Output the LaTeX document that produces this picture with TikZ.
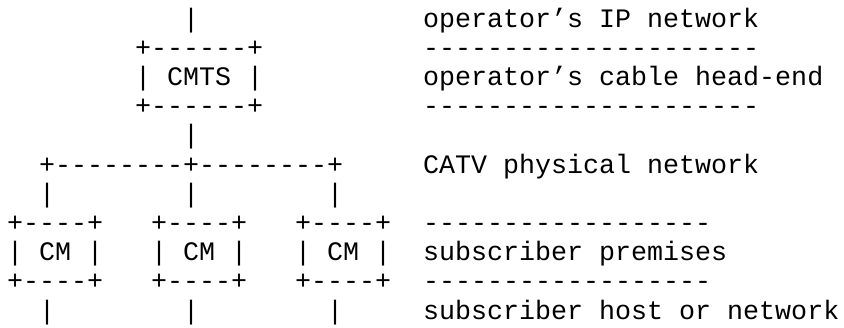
\documentclass[tikz,border=0pt]{standalone}
\usepackage{fontspec}
\setmonofont{Liberation Mono}

\begin{document}
\begin{tikzpicture}[x=16pt, y=-29.2pt,
  ascii/.style={font=\ttfamily\fontsize{26.67pt}{29.2pt}\selectfont, anchor=base west, inner sep=0pt}]

% one unit = one character column (x) or one text line (y)
\useasboundingbox (-0.4375,-0.925) rectangle (52.3125,10.274);

% CMTS and its uplink
\node[ascii] (uplink)  at (11,0) {|};
\node[ascii] (cmtstop) at (8,1)  {+------+};
\node[ascii] (cmts)    at (8,2)  {| CMTS |};
\node[ascii] (cmtsbot) at (8,3)  {+------+};
\node[ascii] (drop)    at (11,4) {|};

% CATV tree
\node[ascii] (trunk) at (2,5) {+--------+--------+};
\node[ascii] (legA)  at (2,6)  {|};
\node[ascii] (legB)  at (11,6) {|};
\node[ascii] (legC)  at (20,6) {|};

% three cable modems
\node[ascii] (cmAtop) at (0,7)  {+----+};
\node[ascii] (cmBtop) at (9,7)  {+----+};
\node[ascii] (cmCtop) at (18,7) {+----+};
\node[ascii] (cmA)    at (0,8)  {| CM |};
\node[ascii] (cmB)    at (9,8)  {| CM |};
\node[ascii] (cmC)    at (18,8) {| CM |};
\node[ascii] (cmAbot) at (0,9)  {+----+};
\node[ascii] (cmBbot) at (9,9)  {+----+};
\node[ascii] (cmCbot) at (18,9) {+----+};

% subscriber side
\node[ascii] (hostA) at (2,10)  {|};
\node[ascii] (hostB) at (11,10) {|};
\node[ascii] (hostC) at (20,10) {|};

% labels on the right
\node[ascii] (ipnet)    at (26,0)  {operator’s IP network};
\node[ascii] (sepA)     at (26,1)  {---------------------};
\node[ascii] (headend)  at (26,2)  {operator’s cable head-end};
\node[ascii] (sepB)     at (26,3)  {---------------------};
\node[ascii] (catv)     at (26,5)  {CATV physical network};
\node[ascii] (sepC)     at (26,7)  {------------------};
\node[ascii] (premises) at (26,8)  {subscriber premises};
\node[ascii] (sepD)     at (26,9)  {------------------};
\node[ascii] (hostnet)  at (26,10) {subscriber host or network};

\end{tikzpicture}
\end{document}
